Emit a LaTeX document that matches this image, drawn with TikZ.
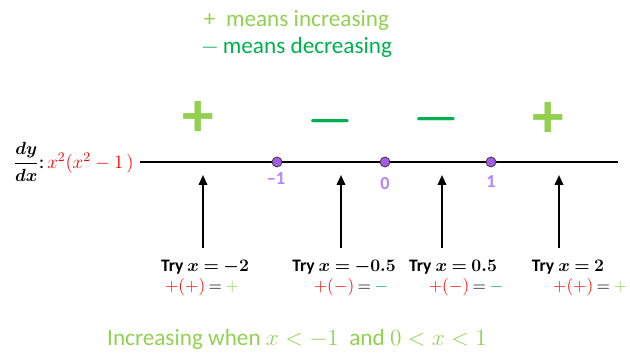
\RequirePackage{fix-cm}
\documentclass[tikz,border=0pt]{standalone}
\usepackage{amsmath}
\usepackage{fontspec}
\setmainfont{Carlito}
\usetikzlibrary{arrows.meta,positioning}
\definecolor{incgreen}{HTML}{92D050}
\definecolor{decgreen}{HTML}{00B050}
\definecolor{exprred}{HTML}{FF0000}
\definecolor{rootfill}{HTML}{A45BE8}
\definecolor{rootlight}{HTML}{B483FF}
\newcommand{\tryat}[1]{Try $\thickmuskip=4mu\relax x=#1$}
\newcommand{\evalsign}[2]{$\thickmuskip=3.5mu\relax\color{exprred}+(#1)\color{black}=\color{#2}#1$}

\begin{document}
\begin{tikzpicture}[x=0.025cm,y=-0.025cm,
  legend/.style={anchor=base west,font=\fontsize{16.5}{19}\selectfont},
  root/.style={circle,draw=black!75,fill=rootfill,line width=0.6pt,
               minimum size=0.25cm,inner sep=0pt},
  rootlabel/.style={font=\fontsize{13}{15}\selectfont\bfseries,text=rootlight},
  plusbox/.style={inner sep=0pt,font=\fontsize{45}{45}\selectfont\bfseries},
  minusbox/.style={inner sep=0pt,font=\fontsize{38}{38}\selectfont\boldmath},
  probe/.style={-{Triangle[length=7pt,width=6pt]},line width=1.4pt},
  trylabel/.style={anchor=base,inner sep=0.5pt,font=\fontsize{12.5}{15}\selectfont\bfseries\boldmath},
  evallabel/.style={anchor=base,inner sep=0.5pt,font=\fontsize{12.5}{15}\selectfont}]
  \useasboundingbox (0,0) rectangle (630,354);
  % legend
  \node[legend,text=incgreen] (legplus) at (199,27) {+\ \ means increasing};
  \node[legend,text=decgreen] (legminus) at (196,54) {$-$\,means decreasing};
  % number line
  \node[anchor=east,inner sep=0pt] (expr) at (134,162)
    {{\fontsize{12.5}{15}\selectfont\boldmath$\dfrac{dy}{dx}$}{\fontsize{13.5}{16}\selectfont:\,%
     \color{exprred}$x^2(x^2-1\,)$}};
  \coordinate (lineL) at (140,162);
  \coordinate (lineR) at (618,162);
  \draw[line width=2pt] (lineL) -- (lineR);
  \node[root] (rm) at (277,162) {};
  \node[root] (rz) at (385,162) {};
  \node[root] (rp) at (491,162) {};
  \node[rootlabel] at (276,179) {–1};
  \node[rootlabel] at (385,184) {0};
  \node[rootlabel] at (491,182) {1};
  % signs of dy/dx
  \node[plusbox,text=incgreen] (sA) at (198,119) {+};
  \node[minusbox,text=decgreen] (sB) at (330,121) {$-$};
  \node[minusbox,text=decgreen] (sC) at (436,119) {$-$};
  \node[plusbox,text=incgreen] (sD) at (548,120) {+};
  % test points
  \foreach \px/\nm in {203/A,341/B,442/C,559/D}{
    \coordinate (base\nm) at (\px,248);
    \coordinate (tip\nm) at (\px,175);
    \draw[probe] (base\nm) -- (tip\nm);
  }
  \node[trylabel] (tryA) at (205,271) {\tryat{-2}};
  \node[trylabel] (tryB) at (344,271) {\tryat{-0.5}};
  \node[trylabel] (tryC) at (453,271) {\tryat{0.5}};
  \node[trylabel] (tryD) at (568,271) {\tryat{2}};
  \node[evallabel] (evalA) at (202,291) {\evalsign{+}{incgreen}};
  \node[evallabel] (evalB) at (351,291) {\evalsign{-}{decgreen}};
  \node[evallabel] (evalC) at (466,291) {\evalsign{-}{decgreen}};
  \node[evallabel] (evalD) at (590,291) {\evalsign{+}{incgreen}};
  % conclusion
  \node[anchor=base,text=incgreen,font=\fontsize{16.5}{19}\selectfont] (concl) at (297,345)
    {Increasing when $x<-1$\ \ and $0<x<1$};
\end{tikzpicture}
\end{document}
